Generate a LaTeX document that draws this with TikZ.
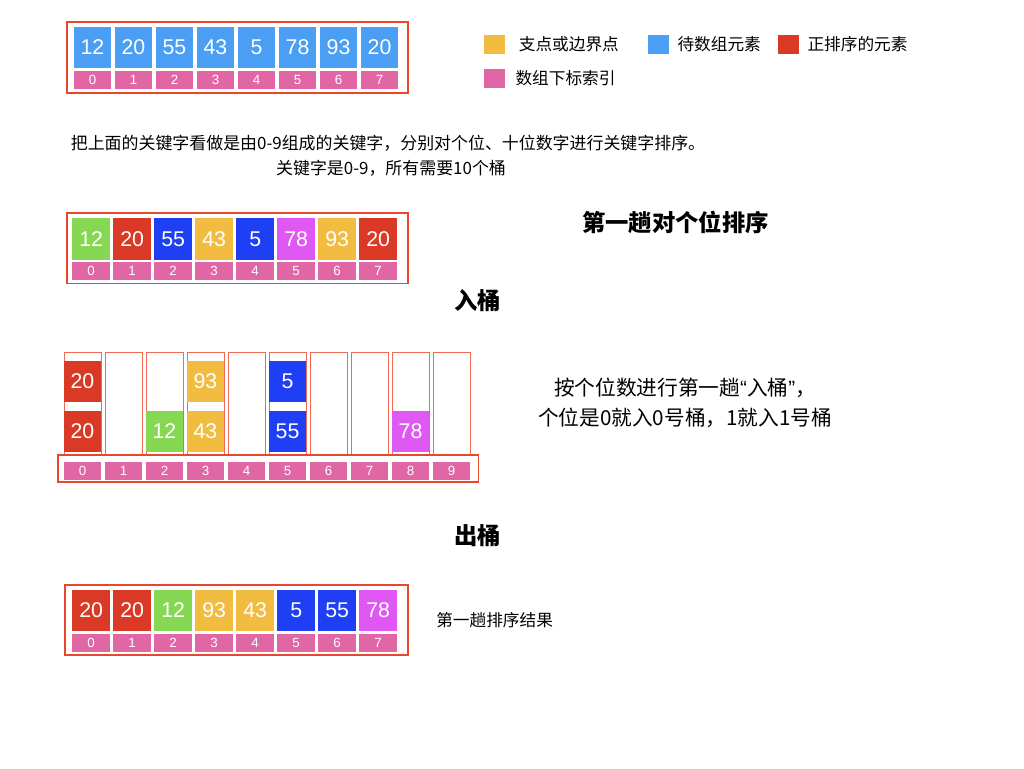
\documentclass[tikz,border=0pt]{standalone}
\usepackage{fontspec}
\setmainfont{Liberation Sans}
\newfontfamily\cjk{Noto Sans CJK SC}
\usetikzlibrary{positioning, calc}
\definecolor{cellblue}{HTML}{4A9FF5}
\definecolor{idxpink}{HTML}{E066A6}
\definecolor{sortred}{HTML}{DA3A25}
\definecolor{pivotyel}{HTML}{F1BC40}
\definecolor{leafgreen}{HTML}{86D752}
\definecolor{deepblue}{HTML}{1E3FF4}
\definecolor{violet}{HTML}{E058F3}
\definecolor{framered}{HTML}{E8472C}
\definecolor{bucketred}{HTML}{EE6A55}
\tikzset{
  cell/.style={
    rectangle, fill=cellblue, text=white, inner sep=0pt,
    minimum width=28.3pt, minimum height=31pt, font=\fontsize{16}{16}\selectfont
  },
  idx/.style={
    rectangle, fill=idxpink, text=white, inner sep=0pt,
    minimum width=28.3pt, minimum height=13.5pt, font=\fontsize{10}{10}\selectfont
  },
  outerframe/.style={draw=framered, line width=1.4pt},
  bucket/.style={
    rectangle, draw=bucketred, line width=0.6pt, inner sep=0pt,
    minimum width=27.75pt, minimum height=77.25pt
  },
  legkey/.style={rectangle, inner sep=0pt, minimum width=15.75pt, minimum height=14.25pt},
  note/.style={inner sep=0pt, font=\cjk\fontsize{12.5}{15}\selectfont},
  heading/.style={inner sep=0pt, font=\cjk\bfseries\fontsize{17.5}{20}\selectfont}
}
\begin{document}
\begin{tikzpicture}[x=0.75pt, y=-0.75pt]
\useasboundingbox (0,0) rectangle (1024,768);

% original array
\foreach \v [count=\i from 0] in {12,20,55,43,5,78,93,20} {
  \node[cell] (a\i) at ({92.5+41*\i},47.3) {\v};
  \node[idx, below=1.5pt of a\i] (ai\i) {\i};
}
\draw[outerframe] ($(a0.north west)+(-6,-4)$) rectangle ($(ai7.south east)+(9,4)$);

% legend
\node[legkey, fill=pivotyel] (kyel) at (494.5,44.5) {};
\node[note, right=10pt of kyel] (tyel) {支点或边界点};
\node[legkey, fill=cellblue] (kblue) at (658.5,44.5) {};
\node[note, right=6pt of kblue] (tblue) {待数组元素};
\node[legkey, fill=sortred] (kred) at (788.5,44.5) {};
\node[note, right=6pt of kred] (tred) {正排序的元素};
\node[legkey, fill=idxpink] (kpink) at (494.5,78.5) {};
\node[note, right=7.5pt of kpink] (tpink) {数组下标索引};

\node[note, font=\cjk\fontsize{12.7}{15}\selectfont] (desc1) at (388,143)
  {把上面的关键字看做是由0-9组成的关键字，分别对个位、十位数字进行关键字排序。};
\node[note, font=\cjk\fontsize{12.7}{15}\selectfont] (desc2) at (391,168)
  {关键字是0-9，所有需要10个桶};

% pass one, units digit
\node[heading] (pass) at (675.5,222) {第一趟对个位排序};
\foreach \v/\c [count=\i from 0] in {12/leafgreen,20/sortred,55/deepblue,43/pivotyel,
    5/deepblue,78/violet,93/pivotyel,20/sortred} {
  \node[cell, fill=\c] (b\i) at ({91.2+41*\i},239) {\v};
  \node[idx, below=1.5pt of b\i] (bi\i) {\i};
}
\draw[outerframe] ($(b0.north west)+(-5,-5)$) rectangle ($(bi7.south east)+(11,3)$);

% buckets
\node[heading] (inb) at (477.5,301) {入桶};
\foreach \i in {0,...,9} {
  \node[bucket] (k\i) at ({82.5+41*\i},403.5) {};
  \node[idx, minimum width=28pt] (ki\i) at ({82.5+41*\i},470.5) {\i};
}
\foreach \k/\v/\c in {0/20/sortred,3/93/pivotyel,5/5/deepblue} {
  \node[cell, fill=\c, minimum width=28pt, below=6.75pt of k\k.north] (up\k) {\v};
}
\foreach \k/\v/\c in {0/20/sortred,2/12/leafgreen,3/43/pivotyel,5/55/deepblue,8/78/violet} {
  \node[cell, fill=\c, minimum width=28pt, above=2.25pt of k\k.south] (lo\k) {\v};
}
\draw[outerframe] ($(ki0.north west)+(-6,-6)$) rectangle ($(ki9.south east)+(8,2.5)$);
\node[note, align=center, font=\cjk\fontsize{15.5}{22.5}\selectfont] (rule) at (685,403)
  {按个位数进行第一趟{\rmfamily“}入桶{\rmfamily”}，\\个位是0就入0号桶，1就入1号桶};

% collect
\node[heading] (outb) at (477.5,536) {出桶};
\foreach \v/\c [count=\i from 0] in {20/sortred,20/sortred,12/leafgreen,93/pivotyel,
    43/pivotyel,5/deepblue,55/deepblue,78/violet} {
  \node[cell, fill=\c] (c\i) at ({91.2+41*\i},610.5) {\v};
  \node[idx, below=1.5pt of c\i] (ci\i) {\i};
}
\draw[outerframe] ($(c0.north west)+(-7,-5)$) rectangle ($(ci7.south east)+(11,3)$);
\node[note, anchor=west] (result) at (436,620) {第一趟排序结果};

\end{tikzpicture}
\end{document}
